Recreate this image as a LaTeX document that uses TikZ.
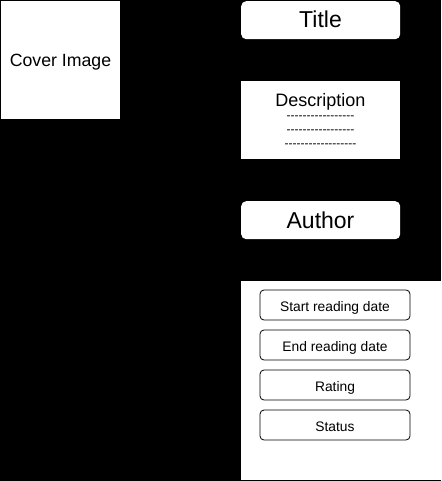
\documentclass[tikz,border=0pt]{standalone}
\usepackage{fontspec}
\setmainfont{Liberation Sans}
\newcommand\dashrow[1]{\foreach \i in {1,...,#1}{-}}
\tikzset{
  panel/.style={fill=white, draw=none, inner sep=0pt, anchor=north west},
  rpanel/.style={panel, rounded corners=5pt},
  field/.style={fill=white, draw=black, line width=0.8pt, rounded corners=4pt, inner sep=0pt,
    minimum width=150pt, minimum height=30pt, text height=13pt, text depth=0pt,
    font=\fontsize{13.8}{16}\selectfont},
  lbl/.style={inner sep=0pt, text=black, anchor=base},
}
\begin{document}
\begin{tikzpicture}[x=1pt,y=-1pt]
\fill[black] (0,0) rectangle (441,481);
\useasboundingbox (0,0) rectangle (441,481);
% cover
\node[panel, minimum width=119pt, minimum height=118pt] (cover) at (1,1) {};
\node[lbl, font=\fontsize{17.7}{20}\selectfont] (covertxt) at (60.5,66.5) {Cover Image};
% title
\node[rpanel, minimum width=159pt, minimum height=38pt] (title) at (241,1) {};
\node[lbl, font=\fontsize{23}{26}\selectfont] (titletxt) at (320.5,28) {Title};
% description
\node[panel, minimum width=159pt, minimum height=78pt] (desc) at (241,81) {};
\node[lbl, font=\fontsize{18}{21}\selectfont] (desctxt) at (320.5,107) {Description};
\node[lbl, font=\fontsize{12}{14}\selectfont] (d1) at (320.5,120) {\dashrow{17}};
\node[lbl, font=\fontsize{12}{14}\selectfont] (d2) at (320.5,134) {\dashrow{17}};
\node[lbl, font=\fontsize{12}{14}\selectfont] (d3) at (320.5,147.5) {\dashrow{18}};
% author
\node[rpanel, minimum width=159pt, minimum height=38pt] (author) at (241,201) {};
\node[lbl, font=\fontsize{23}{26}\selectfont] (authortxt) at (320.5,228) {Author};
% details
\node[panel, minimum width=200pt, minimum height=199pt] (details) at (241,281) {};
\node[field] (start) at (335,305) {Start reading date};
\node[field] (end) at (335,345) {End reading date};
\node[field] (rating) at (335,385) {Rating};
\node[field] (status) at (335,425) {Status};
\end{tikzpicture}
\end{document}
